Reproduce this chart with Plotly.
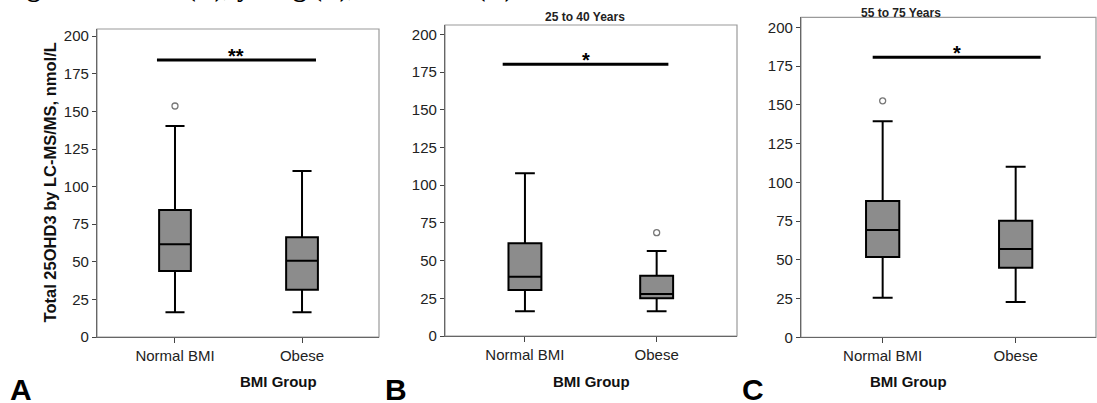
import plotly.graph_objects as go

# BMI groups on the x axis
groups = ['Normal BMI', 'Obese']

# panel A - all ages
a_q1 = [43.9, 31.5]
a_median = [61.6, 50.7]
a_q3 = [84.4, 66.3]
a_low = [16.4, 16.4]
a_high = [140.3, 110.4]
a_out_x = ['Normal BMI']
a_out_y = [153.6]

# panel B - 25 to 40 years
b_q1 = [30.5, 25.0]
b_median = [39.3, 27.9]
b_q3 = [61.5, 40.0]
b_low = [16.4, 16.4]
b_high = [107.9, 56.4]
b_out_x = ['Obese']
b_out_y = [68.5]

# panel C - 55 to 75 years
c_q1 = [51.8, 44.9]
c_median = [69.2, 57.0]
c_q3 = [87.9, 75.2]
c_low = [25.5, 22.8]
c_high = [139.5, 110.0]
c_out_x = ['Normal BMI']
c_out_y = [152.6]

# significance markers
sig_labels = ['**', '*', '*']
sig_levels = [184.2, 180.2, 180.8]

W, H = 1097, 403
FONT = 'Liberation Sans, Arial, sans-serif'
BOX_FILL = '#8c8c8c'

panels = [
    dict(q1=a_q1, med=a_median, q3=a_q3, lo=a_low, hi=a_high, ox=a_out_x, oy=a_out_y,
         xdom=[97, 379], ydom=[337, 29], xr=[-0.614, 1.606], yr=[0, 204.8],
         bar=[-0.142, 1.11], letter='A', title=None),
    dict(q1=b_q1, med=b_median, q3=b_q3, lo=b_low, hi=b_high, ox=b_out_x, oy=b_out_y,
         xdom=[445, 737], ydom=[336, 25], xr=[-0.607, 1.61], yr=[0, 206.2],
         bar=[-0.169, 1.089], letter='B', title='25 to 40 Years'),
    dict(q1=c_q1, med=c_median, q3=c_q3, lo=c_low, hi=c_high, ox=c_out_x, oy=c_out_y,
         xdom=[801, 1096], ydom=[337.3, 17.3], xr=[-0.614, 1.604], yr=[0, 206.5],
         bar=[-0.075, 1.188], letter='C', title='55 to 75 Years'),
]

fig = go.Figure()
layout = {}
shapes = []
annotations = []

for i, p in enumerate(panels):
    n = '' if i == 0 else str(i + 1)
    xa, ya = 'x' + n, 'y' + n

    fig.add_trace(
        go.Box(
            x=groups,
            q1=p['q1'],
            median=p['med'],
            q3=p['q3'],
            lowerfence=p['lo'],
            upperfence=p['hi'],
            width=0.25,
            whiskerwidth=0.6,
            fillcolor=BOX_FILL,
            line=dict(color='black', width=2),
            boxpoints=False,
            showlegend=False,
            xaxis=xa,
            yaxis=ya,
        )
    )
    fig.add_trace(
        go.Scatter(
            x=p['ox'],
            y=p['oy'],
            mode='markers',
            marker=dict(symbol='circle-open', size=6, color='#777777', line=dict(width=1.3)),
            showlegend=False,
            xaxis=xa,
            yaxis=ya,
        )
    )

    layout['xaxis' + n] = dict(
        domain=[p['xdom'][0] / W, p['xdom'][1] / W],
        anchor=ya,
        type='category',
        categoryorder='array',
        categoryarray=groups,
        range=p['xr'],
        automargin=False,
        showline=True,
        linecolor='#666666',
        linewidth=1.2,
        ticks='outside',
        ticklen=5,
        tickcolor='#444444',
        tickfont=dict(family=FONT, size=15, color='#222222'),
        showgrid=False,
        zeroline=False,
        fixedrange=True,
    )
    layout['yaxis' + n] = dict(
        domain=[(H - p['ydom'][0]) / H, (H - p['ydom'][1]) / H],
        anchor=xa,
        range=p['yr'],
        tickvals=[0, 25, 50, 75, 100, 125, 150, 175, 200],
        automargin=False,
        showline=True,
        linecolor='#666666',
        linewidth=1.2,
        ticks='outside',
        ticklen=4,
        tickcolor='#444444',
        tickfont=dict(family=FONT, size=15, color='#222222'),
        showgrid=False,
        zeroline=False,
        fixedrange=True,
    )

    # light frame around the plot area
    shapes.append(dict(
        type='rect', xref=xa + ' domain', yref=ya + ' domain',
        x0=0, x1=1, y0=0, y1=1, line=dict(color='#9a9a9a', width=1.2), layer='below',
    ))
    # significance bar
    shapes.append(dict(
        type='line', xref=xa, yref=ya,
        x0=p['bar'][0], x1=p['bar'][1], y0=sig_levels[i], y1=sig_levels[i],
        line=dict(color='black', width=3),
    ))
    annotations.append(dict(
        xref=xa, yref=ya, x=(p['bar'][0] + p['bar'][1]) / 2, y=sig_levels[i],
        text='<b>' + sig_labels[i] + '</b>', showarrow=False, yanchor='middle', yshift=4,
        font=dict(family=FONT, size=20, color='black'),
    ))

    # x axis title
    annotations.append(dict(
        xref='paper', yref='paper',
        x=(p['xdom'][0] + p['xdom'][1]) / 2 / W, y=(H - 381.7) / H,
        text='<b>BMI Group</b>', showarrow=False, yanchor='middle',
        font=dict(family=FONT, size=15, color='#111111'),
    ))
    # panel letter
    annotations.append(dict(
        xref='paper', yref='paper',
        x=[8, 383, 740][i] / W, y=(H - 389) / H,
        text='<b>' + p['letter'] + '</b>', showarrow=False, xanchor='left', yanchor='middle',
        font=dict(family=FONT, size=30, color='black'),
    ))
    if p['title']:
        annotations.append(dict(
            xref='paper', yref='paper',
            x=[0, 585, 942.7][i] / W, y=(H - [0, 17.3, 13.3][i]) / H,
            text='<b>' + p['title'] + '</b>', showarrow=False, yanchor='middle',
            font=dict(family=FONT, size=12, color='#222222'),
        ))

# y axis title (panel A only)
annotations.append(dict(
    xref='paper', yref='paper', x=50 / W, y=(H - 182.4) / H,
    text='<b>Total 25OHD3 by LC-MS/MS, nmol/L</b>', textangle=-90, showarrow=False,
    xanchor='center', yanchor='middle',
    font=dict(family=FONT, size=16.5, color='#111111'),
))

# caption line cut off at the top of the image
annotations.append(dict(
    xref='paper', yref='paper', x=6 / W, y=1.0,
    text='<b>Ages combined (A), young (B), and older (C).</b>', showarrow=False,
    xanchor='left', yanchor='middle', yshift=13,
    font=dict(family='Liberation Serif, Times New Roman, serif', size=26.6, color='black'),
))

fig.update_layout(
    template='none',
    width=W,
    height=H,
    margin=dict(l=0, r=0, t=0, b=0, autoexpand=False),
    paper_bgcolor='white',
    plot_bgcolor='white',
    shapes=shapes,
    annotations=annotations,
    **layout,
)

fig.write_html(
    'out.html',
    config={'displayModeBar': False},
    post_script="document.body.style.margin='0';",
)
